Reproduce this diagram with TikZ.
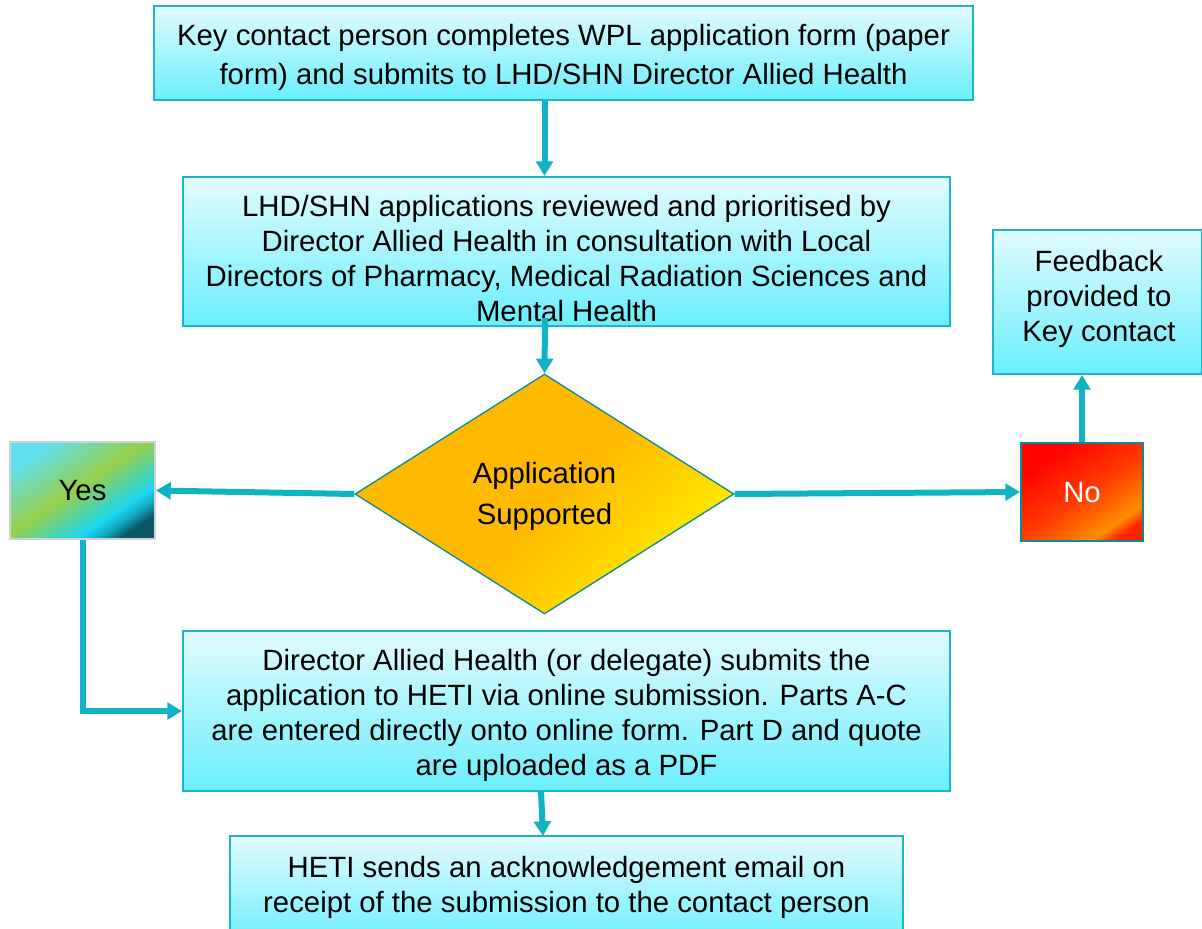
\documentclass[tikz,border=0pt]{standalone}
\usepackage{fontspec}
\setmainfont{Liberation Sans}
\usetikzlibrary{arrows.meta,shapes.geometric}
\definecolor{arrowc}{HTML}{10B3C1}
\definecolor{boxborder}{HTML}{1CB6C6}
\definecolor{boxtop}{HTML}{E2FBFF}
\definecolor{boxbot}{HTML}{6AEEFC}
\definecolor{yA}{HTML}{60E0F2}
\definecolor{yB}{HTML}{96D04A}
\definecolor{yC}{HTML}{1AD6F2}
\definecolor{yD}{HTML}{12A6BE}
\definecolor{yE}{HTML}{0A5866}
\definecolor{nA}{HTML}{FF0400}
\definecolor{nB}{HTML}{FF3C00}
\definecolor{nC}{HTML}{FF8E00}
\definecolor{nD}{HTML}{FF2400}
\definecolor{dA}{HTML}{FFBA00}
\definecolor{dB}{HTML}{FFF400}
\definecolor{darkteal}{HTML}{0B8C94}
\pgfdeclarehorizontalshading{yesshade}{100bp}{color(0bp)=(yA); color(25bp)=(yA); color(48bp)=(yB); color(66bp)=(yC); color(71bp)=(yD); color(76bp)=(yE); color(100bp)=(yE)}
\pgfdeclarehorizontalshading{noshade}{100bp}{color(0bp)=(nA); color(28bp)=(nA); color(52bp)=(nB); color(71bp)=(nC); color(77bp)=(nD); color(100bp)=(nD)}
\pgfdeclarehorizontalshading{diashade}{100bp}{color(0bp)=(dA); color(52bp)=(dA); color(78bp)=(dB); color(100bp)=(dB)}
\tikzset{
  box/.style={rectangle, draw=boxborder, line width=1.5pt, top color=boxtop, bottom color=boxbot, inner sep=0pt},
  txt/.style={align=center, font=\fontsize{22pt}{26.25pt}\selectfont, inner sep=0pt},
  conn/.style={draw=arrowc, line width=4.5pt, -{Triangle[length=11pt,width=12.5pt]}},
}
\begin{document}
\begin{tikzpicture}[x=0.75pt,y=-0.75pt]
\useasboundingbox (0,0) rectangle (1202,928);
\clip (0,0) rectangle (1202,928);
% boxes
\node[box, minimum width={819*0.75pt}, minimum height={94*0.75pt}] (b1) at (563.5,53) {};
\node[txt, font=\fontsize{22pt}{29.25pt}\selectfont] (b1t) at (563.5,57) {Key contact person completes WPL application form (paper\\form) and submits to LHD/SHN Director Allied Health};
\node[box, minimum width={767*0.75pt}, minimum height={149*0.75pt}] (b2) at (566.5,251.5) {};
\node[txt] (b2t) at (566.5,258.5) {LHD/SHN applications reviewed and prioritised by\\Director Allied Health in consultation with Local\\Directors of Pharmacy, Medical Radiation Sciences and\\Mental Health};
\node[box, minimum width={209*0.75pt}, minimum height={144*0.75pt}] (fb) at (1097.5,302) {};
\node[txt] (fbt) at (1099,299) {Feedback\\provided to\\Key contact};
\node[diamond, draw=darkteal, line width=1pt, shading=diashade, shading angle=-45, minimum width={379*0.75pt}, minimum height={240*0.75pt}, inner sep=0pt] (dia) at (544.5,494) {};
\node[txt, font=\fontsize{22pt}{30.75pt}\selectfont] (diat) at (544.5,496) {Application\\Supported};
\node[rectangle, draw=black!18, line width=1.5pt, shading=yesshade, shading angle=-56, minimum width={145*0.75pt}, minimum height={97*0.75pt}, inner sep=0pt] (yes) at (82.5,490.5) {};
\node[txt] (yest) at (82.5,491) {Yes};
\node[rectangle, draw=darkteal, line width=1.5pt, shading=noshade, shading angle=-56, minimum width={122*0.75pt}, minimum height={98*0.75pt}, inner sep=0pt] (no) at (1082,492) {};
\node[txt, text=white] (not) at (1082,493) {No};
\node[box, minimum width={767*0.75pt}, minimum height={160*0.75pt}] (b3) at (566.5,711) {};
\node[txt] (b3t) at (566.5,715.5) {Director Allied Health (or delegate) submits the\\application to HETI via online submission. Parts A-C\\are entered directly onto online form. Part D and quote\\are uploaded as a PDF};
\node[box, minimum width={673*0.75pt}, minimum height={110*0.75pt}] (b4) at (566.5,891) {};
\node[txt] (b4t) at (566.5,887.5) {HETI sends an acknowledgement email on\\receipt of the submission to the contact person};
% connectors
\draw[conn] (b1.south -| dia.north) -- (b2.north -| dia.north);
\coordinate (s2) at (545,318);
\draw[conn] (s2) -- (dia.north);
\draw[conn] (dia.west) -- (yes.east);
\draw[conn] (dia.east) -- (no.west);
\draw[conn] (no.north) -- (no.north |- fb.south);
\draw[conn] (yes.south) |- (b3.west);
\coordinate (s3) at (541,791);
\coordinate (e3) at (543,836);
\draw[conn] (s3) -- (e3);
\end{tikzpicture}
\end{document}
